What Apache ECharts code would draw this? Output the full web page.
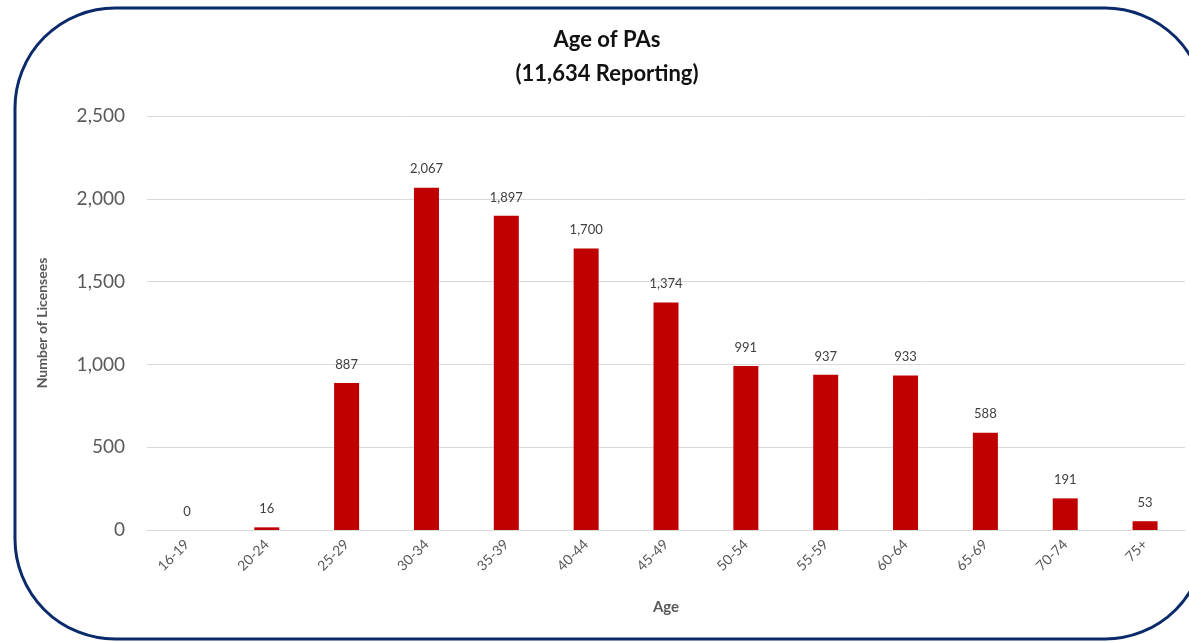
<!DOCTYPE html>
<html>
<head>
<meta charset="utf-8">
<script src="https://cdn.jsdelivr.net/npm/echarts@6/dist/echarts.min.js"></script>
<style>
  html, body { margin: 0; padding: 0; background: #fff; }
  #chart { width: 1189px; height: 642px; }
</style>
</head>
<body>
<div id="chart"></div>
<script>
// age groups and licensee counts
const ageGroups = ['16-19', '20-24', '25-29', '30-34', '35-39', '40-44', '45-49', '50-54', '55-59', '60-64', '65-69', '70-74', '75+'];
const licensees = [0, 16, 887, 2067, 1897, 1700, 1374, 991, 937, 933, 588, 191, 53];
const yTicks = [0, 500, 1000, 1500, 2000, 2500];

const font = 'Lato, "Open Sans", sans-serif';
const chart = echarts.init(document.getElementById('chart'));

const option = {
  animation: false,
  textStyle: { fontFamily: font },
  graphic: [
    {
      type: 'rect',
      shape: { x: 15, y: 8, width: 1190, height: 631, r: 100 },
      style: { fill: 'none', stroke: '#0b2a6b', lineWidth: 3 },
      silent: true
    }
  ],
  title: {
    text: 'Age of PAs\n(11,634 Reporting)',
    left: 602,
    top: 18,
    textAlign: 'center',
    textStyle: {
      fontFamily: font,
      fontSize: 22,
      fontWeight: 'bold',
      color: '#111',
      lineHeight: 34
    }
  },
  grid: {
    left: 147,
    right: 4,
    top: 116,
    bottom: 112
  },
  xAxis: {
    type: 'category',
    data: ageGroups,
    name: 'Age',
    nameLocation: 'middle',
    nameGap: 70,
    nameTextStyle: { fontFamily: font, fontSize: 15, fontWeight: 'bold', color: '#595959' },
    axisTick: { show: false },
    axisLine: { lineStyle: { color: '#d9d9d9', width: 1 } },
    axisLabel: {
      rotate: 45,
      fontFamily: font,
      fontSize: 14,
      color: '#595959',
      margin: 12
    }
  },
  yAxis: {
    type: 'value',
    min: yTicks[0],
    max: yTicks[yTicks.length - 1],
    interval: 500,
    name: 'Number of Licensees',
    nameLocation: 'middle',
    nameGap: 98,
    nameTextStyle: { fontFamily: font, fontSize: 14, fontWeight: 'bold', color: '#595959' },
    axisLine: { show: false },
    axisTick: { show: false },
    splitLine: { lineStyle: { color: '#d9d9d9', width: 1 } },
    axisLabel: {
      fontFamily: font,
      fontSize: 19,
      color: '#595959',
      margin: 22,
      formatter: v => v.toLocaleString('en-US')
    }
  },
  series: [
    {
      type: 'bar',
      data: licensees,
      barWidth: 25,
      itemStyle: { color: '#c00000' },
      label: {
        show: true,
        position: 'top',
        distance: 12,
        fontFamily: font,
        fontSize: 13,
        color: '#404040',
        formatter: p => p.value.toLocaleString('en-US')
      }
    }
  ]
};

chart.setOption(option);
</script>
</body>
</html>
